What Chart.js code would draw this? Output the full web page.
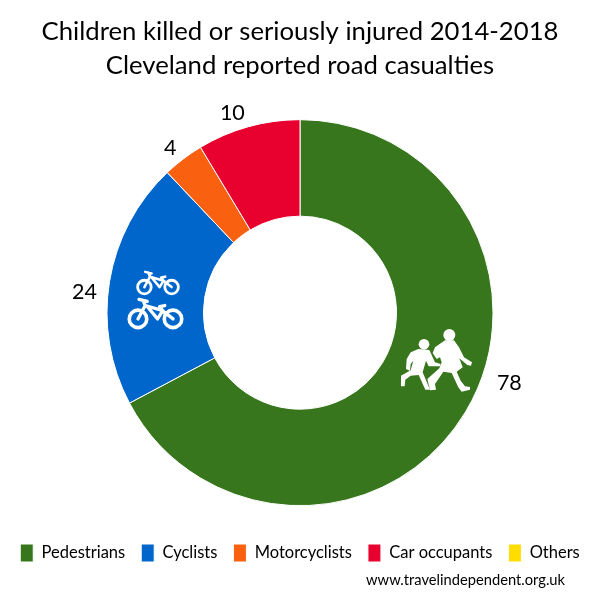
<!DOCTYPE html>
<html>
<head>
<meta charset="utf-8">
<title>Children killed or seriously injured</title>
<script src="https://cdn.jsdelivr.net/npm/chart.js@4"></script>
<style>
  html, body { margin: 0; background: #fff; }
  #wrap { width: 600px; height: 600px; }
</style>
</head>
<body>
<div id="wrap"><canvas id="chart" width="600" height="600"></canvas></div>
<script>
const titleLines = ['Children killed or seriously injured 2014-2018', 'Cleveland reported road casualties'];
const sourceText = 'www.travelindependent.org.uk';
const categories = ['Pedestrians', 'Cyclists', 'Motorcyclists', 'Car occupants', 'Others'];
const casualties = [78, 24, 4, 10, 0];
const colours = ['#38761d', '#0066cc', '#f9600f', '#e8002f', '#ffdd00'];

// hand-placed in the original, so nudge each value off the rim of its slice
const labelNudge = [[44, -29], [-25, 11], [-13, -11], [-16, -14], [0, 0]];

const FONT = 'Lato, Carlito, "Open Sans", sans-serif';

const valueLabels = {
  id: 'valueLabels',
  afterDatasetsDraw(chart) {
    const { ctx } = chart;
    ctx.save();
    ctx.font = '21.5px ' + FONT;
    ctx.fillStyle = '#000';
    ctx.textAlign = 'center';
    ctx.textBaseline = 'middle';
    chart.getDatasetMeta(0).data.forEach((arc, i) => {
      if (!casualties[i]) return;
      const p = arc.getProps(['x', 'y', 'startAngle', 'endAngle', 'outerRadius'], true);
      const mid = (p.startAngle + p.endAngle) / 2;
      ctx.fillText(casualties[i],
        p.x + Math.cos(mid) * p.outerRadius + labelNudge[i][0],
        p.y + Math.sin(mid) * p.outerRadius + labelNudge[i][1]);
    });
    // source line sits inset from the right edge, so not a chart subtitle
    ctx.font = '14.7px ' + FONT;
    ctx.textAlign = 'right';
    ctx.fillText(sourceText, 565, 580);
    ctx.restore();
  },
};

function drawBike(ctx, x, y, s) {
  ctx.save();
  ctx.translate(x, y);
  ctx.scale(s, s);
  ctx.strokeStyle = '#fff';
  ctx.lineCap = 'round';
  ctx.lineJoin = 'round';
  ctx.lineWidth = 3.5;
  [[-17, 8], [17, 8]].forEach(([cx, cy]) => {
    ctx.beginPath();
    ctx.arc(cx, cy, 8.5, 0, Math.PI * 2);
    ctx.stroke();
  });
  ctx.lineWidth = 3.2;
  ctx.beginPath();
  ctx.moveTo(-17, 8);
  ctx.lineTo(-10, -5);
  ctx.lineTo(7, 0);
  ctx.lineTo(17, 8);
  ctx.moveTo(-10, -5);
  ctx.lineTo(-12, -10);
  ctx.moveTo(-16, -11);
  ctx.lineTo(-8, -9);
  ctx.moveTo(-8, -4);
  ctx.lineTo(2, 8);
  ctx.lineTo(7, 0);
  ctx.lineTo(4, -4);
  ctx.lineTo(9, -5);
  ctx.stroke();
  ctx.restore();
}

function drawPoly(ctx, pts) {
  ctx.beginPath();
  pts.forEach(([x, y], i) => (i ? ctx.lineTo(x, y) : ctx.moveTo(x, y)));
  ctx.closePath();
  ctx.fill();
}

function drawChildren(ctx, x, y) {
  ctx.save();
  ctx.translate(x, y);
  ctx.scale(1 / 3, 1 / 3);
  ctx.fillStyle = '#fff';
  // big child
  ctx.beginPath();
  ctx.arc(178, 58, 18, 0, Math.PI * 2);
  ctx.fill();
  drawPoly(ctx, [[165, 74], [192, 74], [207, 95], [222, 125], [246, 140], [243, 150], [232, 148], [208, 128], [218, 155], [200, 168], [212, 195], [225, 212], [240, 214], [240, 222], [215, 228], [205, 215], [185, 172], [160, 168], [135, 205], [138, 222], [120, 224], [112, 190], [148, 158], [155, 140], [150, 125], [140, 130], [128, 112], [135, 95]]);
  // small child
  ctx.beginPath();
  ctx.arc(102, 86, 16, 0, Math.PI * 2);
  ctx.fill();
  drawPoly(ctx, [[62, 110], [85, 100], [118, 103], [135, 140], [152, 145], [150, 152], [116, 152], [108, 135], [98, 170], [120, 222], [106, 222], [86, 178], [62, 180], [46, 192], [44, 212], [33, 212], [33, 180], [62, 164], [70, 135], [62, 145], [60, 165], [48, 160], [50, 130]]);
  ctx.restore();
}

const icons = {
  id: 'icons',
  afterDatasetsDraw(chart) {
    const { ctx } = chart;
    const { x, y } = chart.getDatasetMeta(0).data[0];
    drawBike(ctx, x - 142, y - 32, 0.8);
    drawBike(ctx, x - 144.5, y - 2, 1.03);
    drawChildren(ctx, x + 90, y + 3);
  },
};

new Chart(document.getElementById('chart'), {
  type: 'doughnut',
  data: {
    labels: categories,
    datasets: [{
      data: casualties,
      backgroundColor: colours,
      borderColor: '#fff',
      borderWidth: 1,
      hoverOffset: 0,
    }],
  },
  options: {
    responsive: false,
    animation: false,
    cutout: '50%',
    radius: 193,
    layout: { padding: { bottom: 28 } },
    plugins: {
      title: {
        display: true,
        text: titleLines,
        color: '#000',
        font: { family: FONT, size: 25.7, weight: 'normal', lineHeight: 1.31 },
        padding: { top: 15, bottom: 15 },
      },
      legend: {
        position: 'bottom',
        labels: {
          boxWidth: 13,
          boxHeight: 18,
          padding: 16,
          color: '#000',
          font: { family: FONT, size: 16.5 },
        },
      },
      tooltip: { enabled: false },
    },
  },
  plugins: [valueLabels, icons],
});
</script>
</body>
</html>
